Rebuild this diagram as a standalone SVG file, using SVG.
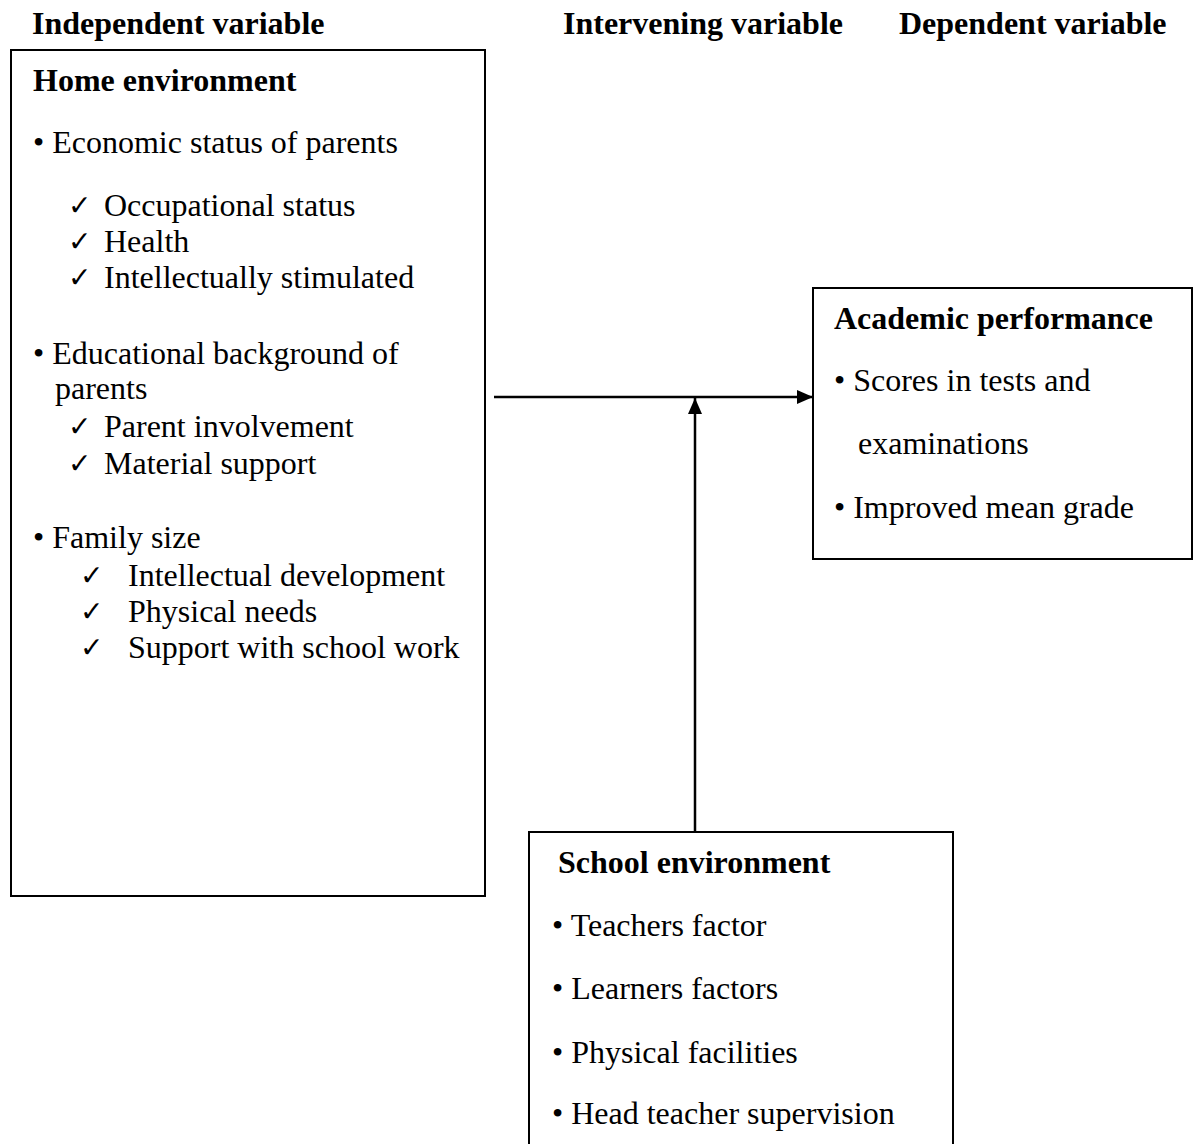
<svg xmlns="http://www.w3.org/2000/svg" width="1194" height="1144" viewBox="0 0 1194 1144">
<style>
text{font-family:"Liberation Serif","Times New Roman",serif;font-size:32px;fill:#000}
.b{font-weight:bold}
.ck{font-family:"DejaVu Sans",sans-serif;font-size:28px;font-weight:bold}
.box{fill:#fff;stroke:#000;stroke-width:2}
.ln{stroke:#000;stroke-width:2.5;fill:none}
</style>
<defs>
<marker id="ahb" markerWidth="16" markerHeight="14" refX="16" refY="7" orient="auto" markerUnits="userSpaceOnUse" viewBox="0 0 16 14">
<path d="M0,0 L16,7 L0,14 Z" fill="#000"/>
</marker>
</defs>
<rect width="1194" height="1144" fill="#fff"/>
<g id="headers">
<text class="b" x="32" y="34">Independent variable</text>
<text class="b" x="563" y="34">Intervening variable</text>
<text class="b" x="899" y="34">Dependent variable</text>
</g>
<g id="connectors">
<line class="ln" x1="494" y1="397" x2="813" y2="397" marker-end="url(#ahb)"/>
<line class="ln" x1="695" y1="832" x2="695" y2="398" marker-end="url(#ahb)"/>
</g>
<g id="home">
<rect class="box" x="11" y="50" width="474" height="846"/>
<text class="b" x="33" y="91">Home environment</text>
<text x="33" y="153">• Economic status of parents</text>
<text class="ck" x="68" y="215">✓</text><text x="104" y="216">Occupational status</text>
<text class="ck" x="68" y="251">✓</text><text x="104" y="252">Health</text>
<text class="ck" x="68" y="287">✓</text><text x="104" y="288">Intellectually stimulated</text>
<text x="33" y="364">• Educational background of</text>
<text x="55" y="399">parents</text>
<text class="ck" x="68" y="436">✓</text><text x="104" y="437">Parent involvement</text>
<text class="ck" x="68" y="473">✓</text><text x="104" y="474">Material support</text>
<text x="33" y="548">• Family size</text>
<text class="ck" x="80" y="585">✓</text><text x="128" y="586">Intellectual development</text>
<text class="ck" x="80" y="621">✓</text><text x="128" y="622">Physical needs</text>
<text class="ck" x="80" y="657">✓</text><text x="128" y="658">Support with school work</text>
</g>
<g id="academic">
<rect class="box" x="813" y="288" width="379" height="271"/>
<text class="b" x="834" y="329">Academic performance</text>
<text x="834" y="391">• Scores in tests and</text>
<text x="858" y="454">examinations</text>
<text x="834" y="518">• Improved mean grade</text>
</g>
<g id="school">
<rect class="box" x="529" y="832" width="424" height="330"/>
<text class="b" x="558" y="873">School environment</text>
<text x="552" y="936">• Teachers factor</text>
<text x="552" y="999">• Learners factors</text>
<text x="552" y="1063">• Physical facilities</text>
<text x="552" y="1124">• Head teacher supervision</text>
</g>
</svg>
